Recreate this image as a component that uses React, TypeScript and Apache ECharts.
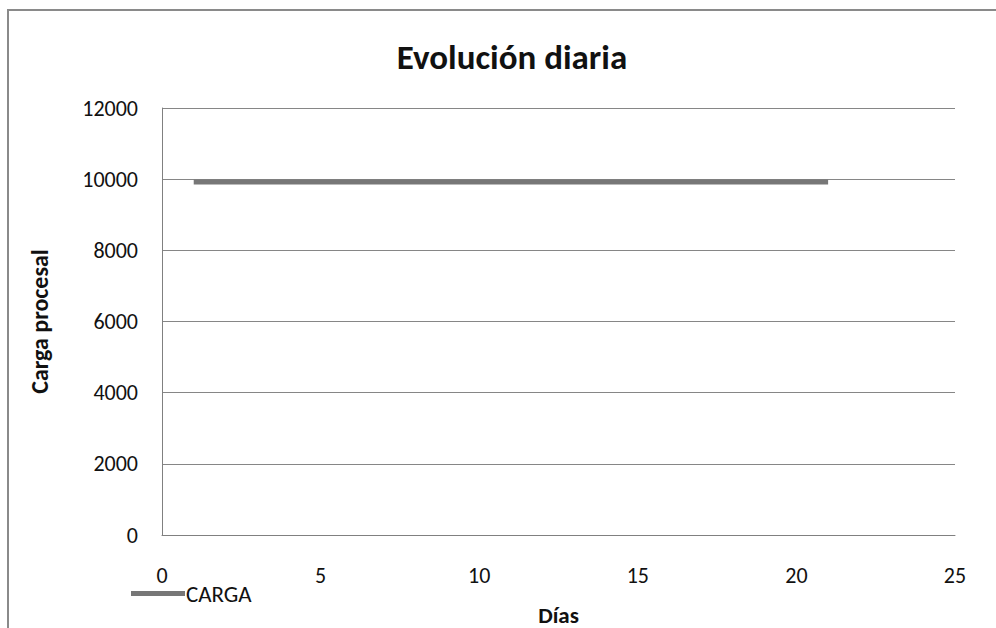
import React, { useEffect, useRef } from "react";
import * as echarts from "echarts";

const days: number[] = [1, 2, 3, 4, 5, 6, 7, 8, 9, 10, 11, 12, 13, 14, 15, 16, 17, 18, 19, 20, 21];
const carga: number[] = [9920, 9920, 9920, 9920, 9920, 9920, 9920, 9920, 9920, 9920, 9920, 9920, 9920, 9920, 9920, 9920, 9920, 9920, 9920, 9920, 9920];
const seriesName = "CARGA";
const titleText = "Evolución diaria";
const xName = "Días";
const yName = "Carga procesal";

const FONT = "Carlito, Calibri, Lato, 'Open Sans', sans-serif";

export default function App() {
  const ref = useRef<HTMLDivElement>(null);
  useEffect(() => {
    if (!ref.current) return;
    const chart = echarts.init(ref.current, undefined, { renderer: "svg" });
    chart.setOption({
      animation: false,
      backgroundColor: "#ffffff",
      title: {
        text: titleText,
        top: 34,
        left: 507,
        textAlign: "center",
        textStyle: { fontFamily: FONT, fontSize: 35, fontWeight: "bold", color: "#111" },
      },
      legend: {
        data: [seriesName],
        left: 126,
        top: 577,
        icon: "rect",
        itemWidth: 54,
        itemHeight: 5,
        itemGap: 4,
        textStyle: { fontFamily: FONT, fontSize: 23, color: "#111", padding: [0, 0, 0, -4] },
      },
      grid: {
        left: 162,
        right: 41,
        top: 108,
        bottom: 93,
        containLabel: false,
        outerBoundsMode: "none",
      },
      xAxis: {
        type: "value",
        min: 0,
        max: 25,
        interval: 5,
        name: xName,
        nameLocation: "middle",
        nameGap: 68,
        nameTextStyle: { fontFamily: FONT, fontSize: 23, fontWeight: "bold", color: "#111" },
        axisLine: { show: true, lineStyle: { color: "#808080", width: 1 } },
        axisTick: { show: false },
        splitLine: { show: false },
        axisLabel: { margin: 29, fontFamily: FONT, fontSize: 22, color: "#111" },
      },
      yAxis: {
        type: "value",
        min: 0,
        max: 12000,
        interval: 2000,
        name: yName,
        nameLocation: "middle",
        nameGap: 111,
        nameRotate: 90,
        nameTextStyle: { fontFamily: FONT, fontSize: 24, fontWeight: "bold", color: "#111" },
        axisLine: { show: true, lineStyle: { color: "#808080", width: 1 } },
        axisTick: { show: false },
        splitLine: { show: true, lineStyle: { color: "#868686", width: 1 } },
        axisLabel: {
          margin: 24,
          fontFamily: FONT,
          fontSize: 22,
          color: "#111",
          formatter: (v: number) => String(v),
        },
      },
      series: [
        {
          name: seriesName,
          type: "line",
          data: days.map((d, i) => [d, carga[i]]),
          showSymbol: false,
          symbol: "none",
          lineStyle: { color: "#777777", width: 5 },
          itemStyle: { color: "#777777" },
        },
      ],
      graphic: [
        {
          type: "polyline",
          shape: { points: [[8, 628], [8, 10], [996, 10]] },
          style: { stroke: "#8a8a8a", lineWidth: 2, fill: "none" },
          silent: true,
        },
      ],
    });
    return () => chart.dispose();
  }, []);
  return (
    <div
      ref={ref}
      style={{ position: "fixed", left: 0, top: 0, width: 996, height: 628 }}
    />
  );
}
